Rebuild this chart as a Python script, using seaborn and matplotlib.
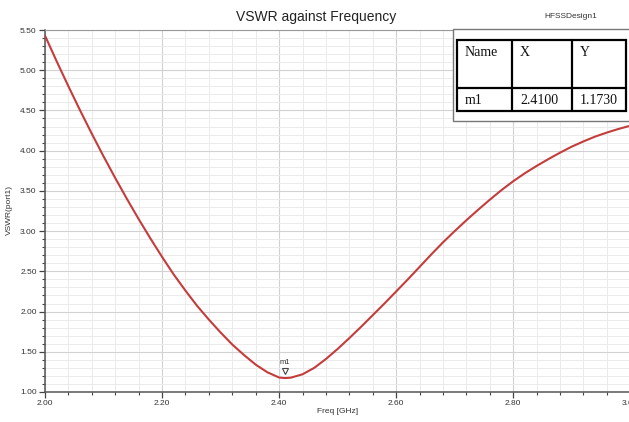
import numpy as np
import pandas as pd
import matplotlib
matplotlib.use("Agg")
import matplotlib.pyplot as plt
import matplotlib.transforms as mtransforms
from matplotlib.patches import Rectangle
from matplotlib.ticker import MultipleLocator, FormatStrFormatter
import seaborn as sns

# ---- data ----
freq = [2.00, 2.02, 2.04, 2.06, 2.08, 2.10, 2.12, 2.14, 2.16, 2.18,
        2.20, 2.22, 2.24, 2.26, 2.28, 2.30, 2.32, 2.34, 2.36, 2.38,
        2.40, 2.41, 2.42, 2.44, 2.46, 2.48, 2.50, 2.52, 2.54, 2.56,
        2.58, 2.60, 2.62, 2.64, 2.66, 2.68, 2.70, 2.72, 2.74, 2.76,
        2.78, 2.80, 2.82, 2.84, 2.86, 2.88, 2.90, 2.92, 2.94, 2.96,
        2.98, 3.00]
vswr = [5.43, 5.11, 4.80, 4.50, 4.21, 3.93, 3.66, 3.40, 3.15, 2.91,
        2.68, 2.46, 2.26, 2.07, 1.90, 1.74, 1.59, 1.46, 1.34, 1.245,
        1.18, 1.173, 1.178, 1.22, 1.30, 1.41, 1.535, 1.67, 1.81, 1.955,
        2.10, 2.25, 2.40, 2.555, 2.71, 2.86, 3.00, 3.135, 3.265, 3.39,
        3.51, 3.62, 3.72, 3.81, 3.895, 3.975, 4.05, 4.115, 4.175, 4.225,
        4.27, 4.31]
marker_name = "m1"
marker_x = 2.41
marker_y = 1.173
table_header = ["Name", "X", "Y"]
table_row = ["m1", "2.4100", "1.1730"]

sns.set_style("white")
plt.rcParams["font.family"] = ["Liberation Sans", "DejaVu Sans"]

W, H = 629, 422
fig = plt.figure(figsize=(W / 100, H / 100), dpi=100)
ax = fig.add_axes([45 / W, 1 - 392 / H, (629 - 45) / W + 0.002, (392 - 30) / H])

df = pd.DataFrame({"Freq": freq, "VSWR": vswr})
sns.lineplot(data=df, x="Freq", y="VSWR", ax=ax, color="#c43c3c", linewidth=1.5, zorder=3)

ax.set_xlim(2.0, 3.0)
ax.set_ylim(1.0, 5.5)
ax.xaxis.set_major_locator(MultipleLocator(0.2))
ax.xaxis.set_minor_locator(MultipleLocator(0.04))
ax.yaxis.set_major_locator(MultipleLocator(0.5))
ax.yaxis.set_minor_locator(MultipleLocator(0.1))
ax.xaxis.set_major_formatter(FormatStrFormatter("%.2f"))
ax.yaxis.set_major_formatter(FormatStrFormatter("%.2f"))

ax.grid(which="major", color="#d2d2d2", linewidth=0.8, zorder=0)
ax.grid(which="minor", color="#ebebeb", linewidth=0.7, zorder=0)
ax.set_axisbelow(True)

ax.tick_params(which="major", direction="out", length=4, width=0.9, color="#444444",
               labelsize=6, labelcolor="#333333", pad=2)
ax.tick_params(which="minor", direction="out", length=2.5, width=0.8, color="#444444")
ax.tick_params(axis="both", which="both", bottom=True, left=True)
for lab in ax.get_xticklabels() + ax.get_yticklabels():
    lab.set_family(["Liberation Sans Narrow", "Liberation Sans", "DejaVu Sans"])

for s in ["left", "bottom"]:
    ax.spines[s].set_color("#555555")
    ax.spines[s].set_linewidth(1.1)
ax.spines["top"].set_color("#999999")
ax.spines["top"].set_linewidth(0.8)
ax.spines["right"].set_visible(False)

ax.set_xlabel("Freq [GHz]", fontsize=6, color="#333333", labelpad=2)
ax.set_ylabel("VSWR(port1)", fontsize=6, color="#333333", labelpad=-2)
ax.xaxis.set_label_coords((337 - 45) / (629 - 45), -0.045)
ax.yaxis.set_label_coords(-0.055, (392 - 210) / (392 - 30))

# marker m1
tri_tr = mtransforms.offset_copy(ax.transData, fig=fig, x=0, y=5, units="points")
ax.plot([marker_x], [marker_y], marker="v", markersize=5, markerfacecolor="white",
        markeredgecolor="#444444", markeredgewidth=0.8, transform=tri_tr, zorder=4)
ax.annotate(marker_name, (marker_x, marker_y), xytext=(0, 9), textcoords="offset points",
            ha="center", va="bottom", fontsize=5.5, color="#333333")

# title and design name
fig.text(316 / W, 1 - 17 / H, "VSWR against Frequency", ha="center", va="center",
         fontsize=10, color="#222222")
fig.text(571 / W, 1 - 17 / H, "HFSSDesign1", ha="center", va="center",
         fontsize=6, color="#333333")

# marker table overlay in pixel coordinates
ov = fig.add_axes([0, 0, 1, 1], zorder=10)
ov.set_xlim(0, W)
ov.set_ylim(H, 0)
ov.axis("off")
ov.add_patch(Rectangle((453, 29), 180, 92, facecolor="white", edgecolor="#777777", linewidth=1.0))
cols = [457, 512, 572, 626]
rows = [40, 88, 111]
ov.add_patch(Rectangle((cols[0], rows[0]), cols[-1] - cols[0], rows[-1] - rows[0],
                       facecolor="white", edgecolor="black", linewidth=1.6))
for cx in cols[1:-1]:
    ov.plot([cx, cx], [rows[0], rows[-1]], color="black", linewidth=1.6)
ov.plot([cols[0], cols[-1]], [rows[1], rows[1]], color="black", linewidth=1.6)
serif = ["Liberation Serif", "DejaVu Serif"]
for i, txt in enumerate(table_header):
    ov.text(cols[i] + 8, 52, txt, ha="left", va="center", fontsize=10, family=serif, color="#111111")
for i, txt in enumerate(table_row):
    ov.text(cols[i] + 8, 100, txt, ha="left", va="center", fontsize=10, family=serif, color="#111111")

fig.savefig("out.png", dpi=100)
